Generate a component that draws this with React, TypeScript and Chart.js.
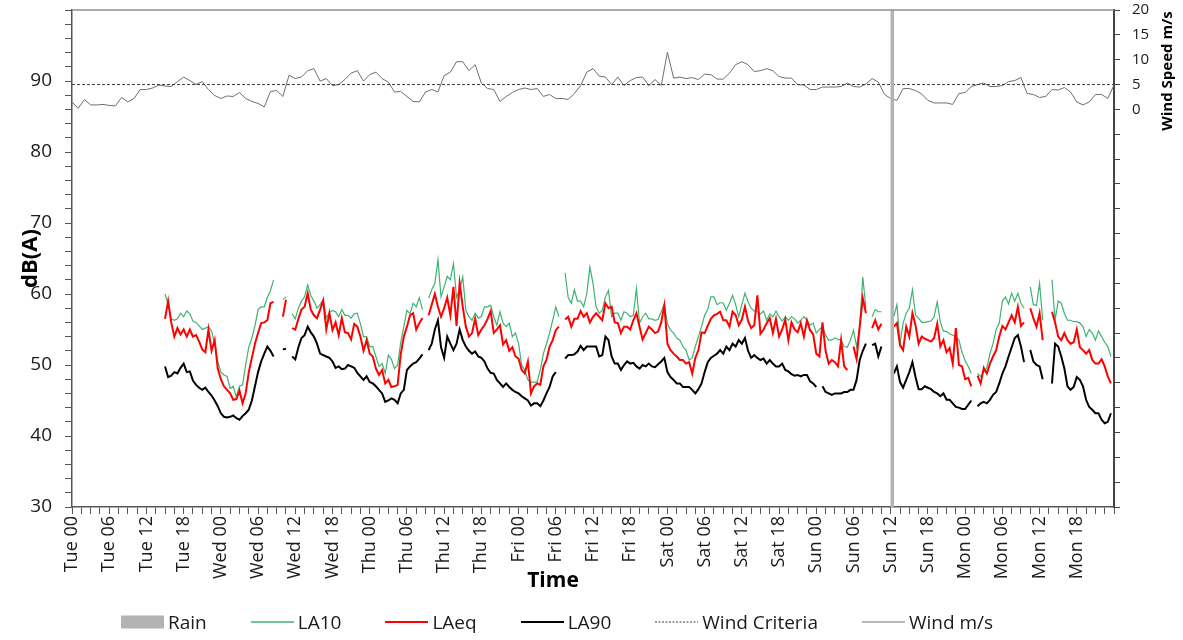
import React, { useEffect, useRef } from 'react';
import { Chart, registerables } from 'chart.js';

Chart.register(...registerables);

const FONT = '"Open Sans", "Noto Sans", sans-serif';

// Time axis: hours from Tuesday 00:00, one week long
const dayNames = ['Tue', 'Wed', 'Thu', 'Fri', 'Sat', 'Sun', 'Mon'];
const axisEndHour = 168;
const labelEveryHours = 6;
const minorTickHours = 1.5;

// Noise levels, dB(A), half-hourly from Tue 15:00 (null = no valid sample)
const noiseStartHour = 15;
const noiseStepHours = 0.5;

const la10 = [
  60.0, 58.5, 56.5, 56.3, 56.5, 57.3, 56.8, 57.6, 57.2, 56.2,
  56.0, 55.5, 55.0, 55.2, 55.4, 54.8, 53.0, 50.5, 49.0, 48.6,
  48.4, 46.7, 47.0, 45.5, 47.0, 47.2, 50.0, 52.5, 53.8, 55.5,
  57.8, 58.2, 58.2, 59.5, 60.5, 62.0, null, null, 59.2, 59.6,
  null, 57.2, 56.5, 58.0, 59.0, 59.6, 61.3, 59.8, 59.0, 58.0,
  58.5, 59.2, 56.6, 57.4, 57.7, 57.5, 56.8, 57.8, 57.0, 57.0,
  56.6, 57.2, 57.3, 55.8, 54.0, 54.0, 52.6, 52.6, 51.2, 49.8,
  50.2, 48.8, 51.4, 50.8, 49.5, 50.0, 53.2, 55.4, 57.7, 57.2,
  58.7, 58.2, 59.5, 57.8, null, 59.4, 60.6, 61.5, 64.8, 59.6,
  61.0, 62.5, 62.0, 64.3, 59.5, 60.6, 62.4, 57.7, 56.8, 56.3,
  57.3, 56.6, 56.8, 58.2, 58.2, 58.4, 56.8, 55.6, 57.5, 55.9,
  55.4, 55.9, 54.0, 54.5, 53.0, 50.0, 49.3, 47.9, 47.6, 47.6,
  47.6, 49.3, 51.6, 53.0, 54.5, 56.3, 58.2, 56.8, null, 63.0,
  59.5, 58.7, 60.6, 59.0, 59.0, 58.2, 60.1, 63.8, 61.5, 58.2,
  57.3, 57.7, 59.6, 60.5, 56.8, 57.3, 57.3, 56.3, 57.5, 57.3,
  56.8, 57.0, 60.8, 55.9, 56.8, 57.3, 56.5, 56.5, 56.3, 56.4,
  57.5, 58.6, 55.8, 54.9, 54.5, 53.8, 53.5, 52.6, 52.1, 50.7,
  51.0, 52.6, 54.0, 55.4, 57.0, 57.8, 59.6, 59.6, 58.5, 58.8,
  58.7, 57.7, 58.7, 59.8, 58.5, 56.8, 58.5, 60.1, 58.9, 58.0,
  57.6, 57.5, 57.2, 57.6, 56.3, 57.2, 56.8, 57.6, 56.8, 56.2,
  56.8, 56.3, 56.8, 56.5, 55.9, 56.3, 56.8, 56.3, 55.6, 55.9,
  54.5, 55.0, 55.4, 54.2, 53.5, 53.5, 53.8, 53.6, 53.5, 52.6,
  52.5, 53.5, 54.9, 52.6, 55.4, 62.4, 58.0, null, 56.8, 57.8,
  57.5, 57.5, null, null, null, 56.8, 58.5, 53.0, 55.9, 57.3,
  58.0, 60.6, 57.0, 56.6, 56.0, 56.0, 56.1, 56.2, 56.8, 58.9,
  56.0, 54.8, 54.7, 54.4, 54.2, 54.0, 53.5, 51.8, 50.6, 49.8,
  48.8, null, 48.8, 48.4, 49.0, 49.6, 51.6, 53.0, 55.0, 55.9,
  59.0, 59.6, 58.6, 60.1, 59.0, 60.1, 58.7, 58.0, null, 61.0,
  58.5, 58.4, 61.5, 56.3, null, null, 62.0, 56.3, 59.0, 58.7,
  57.3, 56.3, 56.3, 56.1, 56.1, 55.9, 55.4, 54.0, 55.0, 54.5,
  53.5, 54.8, 54.0, 53.2, 52.6, 51.2,
];

const laeq = [
  56.5, 59.0, 56.0, 54.0, 55.2, 54.3, 55.0, 54.0, 55.0, 54.0,
  54.2, 53.3, 52.2, 51.8, 55.0, 52.0, 53.5, 49.5, 48.0, 47.0,
  46.5, 46.0, 45.1, 45.2, 46.4, 44.6, 46.0, 49.0, 51.0, 53.0,
  54.5, 55.9, 56.0, 56.3, 58.7, 58.9, null, null, 56.8, 59.2,
  null, 55.2, 55.0, 56.5, 57.8, 58.2, 60.1, 57.8, 57.0, 56.6,
  57.8, 59.1, 55.0, 57.3, 54.9, 56.0, 54.2, 56.6, 54.6, 54.5,
  53.6, 55.8, 55.4, 54.0, 52.0, 53.5, 51.6, 51.2, 49.5, 48.6,
  49.3, 47.4, 47.9, 46.9, 47.0, 47.2, 51.5, 54.0, 55.4, 57.0,
  57.3, 55.0, 55.9, 56.6, null, 57.0, 58.5, 60.0, 58.2, 56.8,
  58.0, 59.5, 57.0, 61.0, 55.5, 61.5, 58.2, 55.4, 54.0, 54.5,
  56.5, 54.2, 55.0, 55.6, 56.5, 57.6, 54.5, 55.0, 55.6, 52.9,
  53.5, 52.0, 52.5, 51.2, 50.9, 49.3, 48.8, 50.5, 46.0, 47.0,
  47.4, 47.2, 49.8, 50.7, 52.6, 53.5, 54.9, 55.4, null, 56.4,
  56.8, 55.4, 56.5, 56.5, 57.6, 56.8, 57.3, 56.0, 56.8, 57.3,
  56.8, 56.3, 58.7, 58.0, 58.2, 56.0, 55.9, 54.5, 55.4, 55.4,
  55.0, 56.3, 57.3, 55.4, 53.6, 54.5, 55.4, 55.0, 54.5, 54.7,
  56.0, 58.4, 53.0, 52.1, 51.6, 51.2, 50.7, 50.7, 50.2, 50.4,
  48.8, 51.0, 52.1, 54.6, 54.5, 55.5, 56.5, 57.0, 57.2, 57.5,
  56.3, 56.3, 55.4, 57.5, 57.0, 55.6, 56.4, 58.2, 56.2, 55.2,
  55.6, 59.8, 54.4, 55.0, 55.9, 56.6, 54.5, 56.5, 54.0, 55.0,
  56.4, 53.5, 56.0, 55.0, 54.6, 55.9, 54.0, 56.3, 54.9, 54.3,
  51.6, 51.2, 56.0, 52.0, 50.2, 50.7, 50.4, 49.8, 53.5, 49.8,
  49.3, null, 52.6, 50.8, 55.4, 59.4, 57.3, null, 55.2, 56.3,
  55.0, 55.8, null, null, null, 55.4, 55.9, 52.8, 52.1, 55.4,
  54.0, 57.3, 55.6, 53.0, 54.0, 53.7, 53.5, 53.3, 53.8, 55.8,
  52.6, 53.5, 51.8, 52.4, 50.2, 55.2, 50.0, 49.8, 48.0, 48.2,
  47.0, null, 48.5, 47.4, 49.6, 48.8, 50.2, 51.2, 52.1, 54.0,
  55.5, 55.0, 56.0, 57.0, 56.0, 58.2, 55.5, 56.0, null, 58.0,
  56.6, 55.4, 57.3, 53.5, null, null, 57.5, 56.0, 54.0, 53.5,
  54.5, 53.5, 53.0, 53.2, 55.0, 52.5, 52.1, 51.6, 52.1, 50.7,
  50.2, 50.2, 50.8, 49.8, 48.4, 47.4,
];

const la90 = [
  49.8, 48.3, 48.5, 49.0, 48.8, 49.6, 50.2, 49.0, 49.1, 47.8,
  47.2, 46.8, 46.5, 46.8, 46.2, 45.7, 45.0, 44.2, 43.2, 42.7,
  42.6, 42.7, 42.9, 42.5, 42.3, 42.8, 43.2, 43.7, 45.0, 47.0,
  49.0, 50.5, 51.6, 52.6, 52.0, 51.2, null, null, 52.2, 52.3,
  null, 51.2, 50.8, 52.5, 53.8, 54.2, 55.4, 54.6, 54.0, 53.0,
  51.6, 51.4, 51.2, 51.0, 50.5, 49.6, 49.8, 49.4, 49.5, 50.0,
  49.8, 49.6, 48.9, 48.4, 47.9, 48.4, 47.6, 47.4, 47.0, 46.5,
  46.0, 44.8, 45.0, 45.3, 45.1, 44.6, 46.0, 46.5, 49.3, 49.8,
  50.2, 50.4, 50.9, 51.5, null, 52.1, 53.0, 55.0, 56.3, 52.5,
  51.0, 54.0, 53.0, 52.1, 53.0, 55.0, 53.5, 52.6, 52.0, 51.6,
  51.9, 51.2, 51.0, 50.5, 49.5, 48.9, 48.8, 47.9, 47.4, 46.9,
  47.4, 46.9, 46.5, 46.2, 46.0, 45.6, 45.3, 45.0, 44.3, 44.6,
  44.6, 44.2, 45.0, 46.0, 46.9, 48.4, 49.0, null, null, 50.9,
  51.4, 51.4, 51.5, 51.9, 52.7, 52.1, 52.6, 52.6, 52.6, 52.6,
  51.2, 51.4, 54.0, 53.5, 51.2, 50.2, 50.2, 49.3, 50.0, 50.5,
  50.2, 50.3, 49.8, 49.5, 50.0, 49.8, 50.2, 49.8, 49.7, 50.1,
  50.5, 51.0, 49.0, 48.3, 47.9, 47.4, 47.4, 46.9, 46.9, 46.9,
  46.5, 46.0, 46.6, 47.4, 49.0, 50.4, 51.0, 51.3, 51.6, 52.1,
  51.6, 52.6, 52.1, 53.0, 52.6, 53.5, 53.0, 53.8, 52.0, 51.0,
  51.4, 51.0, 50.7, 50.9, 50.2, 50.7, 50.2, 49.8, 49.8, 50.2,
  49.3, 49.1, 48.7, 48.5, 48.6, 48.4, 48.6, 48.6, 47.7, 47.4,
  46.9, null, 47.0, 46.2, 46.0, 45.8, 46.0, 46.0, 46.0, 46.2,
  46.2, 46.5, 46.5, 47.9, 50.7, 52.0, 53.0, null, 52.8, 53.0,
  51.2, 52.6, null, null, null, 48.8, 49.8, 47.6, 46.8, 47.9,
  49.0, 50.4, 48.3, 46.6, 46.6, 47.0, 46.8, 46.6, 46.2, 46.0,
  45.6, 46.0, 45.1, 45.1, 44.6, 44.1, 44.0, 43.8, 43.8, 44.4,
  45.0, null, 44.2, 44.6, 44.8, 44.6, 45.1, 45.8, 46.2, 47.4,
  48.8, 49.8, 51.2, 52.5, 53.8, 54.2, 52.6, 50.4, null, 52.1,
  50.5, 50.0, 49.8, 48.0, null, null, 47.4, 53.0, 52.6, 51.2,
  49.5, 47.0, 46.5, 46.9, 48.3, 47.9, 47.0, 45.1, 44.1, 43.7,
  43.2, 43.2, 42.3, 41.8, 42.0, 43.2,
];

// Wind speed, m/s, hourly from Tue 00:00
const windSpeed = [
  1.5, 0.2, 2.0, 0.9, 0.9, 1.0, 0.8, 0.7, 2.4, 1.5,
  2.2, 4.0, 4.0, 4.3, 4.9, 4.7, 4.6, 5.6, 6.5, 5.8,
  5.0, 5.6, 4.0, 2.8, 2.2, 2.7, 2.6, 3.4, 2.2, 1.6,
  1.2, 0.5, 3.6, 3.8, 2.6, 6.9, 6.2, 6.5, 7.8, 8.2,
  5.7, 6.2, 4.8, 5.0, 6.0, 7.3, 7.8, 5.7, 7.0, 7.5,
  6.2, 5.5, 3.5, 3.6, 2.6, 1.6, 1.5, 3.5, 4.0, 3.5,
  6.8, 7.5, 9.6, 9.6, 7.8, 9.0, 5.3, 4.2, 4.0, 1.6,
  2.6, 3.4, 4.0, 4.3, 4.0, 4.2, 2.6, 3.0, 2.2, 2.2,
  2.0, 3.2, 4.8, 7.5, 8.2, 6.7, 6.5, 5.0, 6.5, 4.8,
  5.8, 6.4, 6.5, 4.8, 6.0, 4.8, 11.5, 6.3, 6.5, 6.2,
  6.4, 6.0, 7.1, 7.0, 6.1, 6.1, 7.3, 9.0, 9.6, 9.0,
  7.6, 7.8, 8.2, 7.8, 6.6, 6.3, 6.3, 5.0, 4.9, 4.0,
  4.0, 4.5, 4.5, 4.5, 4.6, 5.3, 4.6, 4.5, 5.1, 6.2,
  5.5, 3.0, 2.2, 1.8, 4.2, 4.2, 3.8, 3.1, 1.8, 1.3,
  1.3, 1.3, 1.0, 3.2, 3.4, 4.6, 5.0, 5.3, 4.6, 4.6,
  4.8, 5.6, 5.8, 6.4, 3.2, 3.0, 2.4, 2.6, 4.0, 3.9,
  4.4, 3.5, 1.5, 0.9, 1.5, 3.0, 3.0, 2.2, 4.9,
];
const windCriteria = 5;

// Rain events, hours from Tue 00:00
const rainHours = [132.25];

const COLORS = {
  rain: '#b3b3b3',
  la10: '#3cb371',
  laeq: '#ff0000',
  la90: '#000000',
  criteria: '#3a3a3a',
  wind: '#6e6e6e',
};

const legendEntries = [
  { label: 'Rain', kind: 'box', color: COLORS.rain, width: 0, dash: '' },
  { label: 'LA10', kind: 'line', color: COLORS.la10, width: 1.5, dash: '' },
  { label: 'LAeq', kind: 'line', color: COLORS.laeq, width: 2, dash: '' },
  { label: 'LA90', kind: 'line', color: COLORS.la90, width: 2, dash: '' },
  { label: 'Wind Criteria', kind: 'line', color: COLORS.criteria, width: 1, dash: '2 1.5' },
  { label: 'Wind m/s', kind: 'line', color: COLORS.wind, width: 1, dash: '' },
];

const noisePoints = (vals: (number | null)[]) =>
  vals.map((v, i) => ({ x: noiseStartHour + i * noiseStepHours, y: v }));

const hourLabel = (h: number) => {
  const day = dayNames[Math.floor(h / 24)];
  const hh = String(h % 24).padStart(2, '0');
  return `${day} ${hh}`;
};

// keep the plot frame fixed: no extra room for half tick labels at the ends
const noEndPadding = (s: any) => {
  s.paddingTop = 0;
  s.paddingBottom = 0;
};

const titlesPlugin = {
  id: 'frameAndTitles',
  afterDraw(chart: any) {
    const { ctx, chartArea: a } = chart;
    ctx.save();
    // top frame edge
    ctx.strokeStyle = '#8f8f8f';
    ctx.lineWidth = 1.5;
    ctx.beginPath();
    ctx.moveTo(a.left, a.top);
    ctx.lineTo(a.right, a.top);
    ctx.stroke();

    ctx.fillStyle = '#000';
    ctx.textAlign = 'center';
    ctx.textBaseline = 'middle';

    ctx.font = `bold 21px ${FONT}`;
    ctx.fillText('Time', a.left + 481, a.bottom + 74);

    ctx.save();
    ctx.translate(31, (a.top + a.bottom) / 2);
    ctx.rotate(-Math.PI / 2);
    ctx.font = `bold 22px ${FONT}`;
    ctx.fillText('dB(A)', 0, 0);
    ctx.restore();

    ctx.save();
    ctx.translate(a.right + 54, a.top + 61);
    ctx.rotate(-Math.PI / 2);
    ctx.font = `bold 15px ${FONT}`;
    ctx.fillText('Wind Speed m/s', 0, 0);
    ctx.restore();

    ctx.restore();
  },
};

export default function App() {
  const canvasRef = useRef<HTMLCanvasElement | null>(null);

  useEffect(() => {
    if (!canvasRef.current) return;
    const rainData: any[] = [];
    rainHours.forEach((h) => {
      rainData.push({ x: h, y: 30 }, { x: h, y: 100 }, { x: h, y: null });
    });

    const chart = new Chart(canvasRef.current, {
      type: 'line',
      data: {
        datasets: [
          {
            label: 'Rain',
            data: rainData,
            yAxisID: 'y',
            borderColor: COLORS.rain,
            borderWidth: 3.5,
            pointRadius: 0,
            spanGaps: false,
          },
          {
            label: 'LA90',
            data: noisePoints(la90),
            yAxisID: 'y',
            borderColor: COLORS.la90,
            borderWidth: 2,
            pointRadius: 0,
            spanGaps: false,
          },
          {
            label: 'LAeq',
            data: noisePoints(laeq),
            yAxisID: 'y',
            borderColor: COLORS.laeq,
            borderWidth: 2,
            pointRadius: 0,
            spanGaps: false,
          },
          {
            label: 'LA10',
            data: noisePoints(la10),
            yAxisID: 'y',
            borderColor: COLORS.la10,
            borderWidth: 1.2,
            pointRadius: 0,
            spanGaps: false,
          },
          {
            label: 'Wind Criteria',
            data: [
              { x: 0, y: windCriteria },
              { x: axisEndHour, y: windCriteria },
            ],
            yAxisID: 'y2',
            borderColor: COLORS.criteria,
            borderWidth: 1,
            borderDash: [3, 2],
            pointRadius: 0,
          },
          {
            label: 'Wind m/s',
            data: windSpeed.map((v, i) => ({ x: i, y: v })),
            yAxisID: 'y2',
            borderColor: COLORS.wind,
            borderWidth: 1,
            pointRadius: 0,
          },
        ],
      },
      options: {
        animation: false,
        responsive: true,
        maintainAspectRatio: false,
        layout: { padding: { top: 10, left: 0, right: 0, bottom: 0 }, autoPadding: false },
        plugins: {
          legend: { display: false },
          tooltip: { enabled: false },
        },
        elements: { line: { tension: 0 } },
        scales: {
          x: {
            type: 'linear',
            min: 0,
            max: axisEndHour,
            offset: false,
            grid: {
              drawOnChartArea: false,
              drawTicks: true,
              tickLength: 7,
              tickColor: '#555',
              tickWidth: 1,
            },
            border: { color: '#555', width: 1.5 },
            ticks: {
              stepSize: minorTickHours,
              autoSkip: false,
              minRotation: 90,
              maxRotation: 90,
              padding: 2,
              color: '#1a1a1a',
              font: { family: FONT, size: 18 },
              callback: (v: any) =>
                v % labelEveryHours === 0 && v < axisEndHour ? hourLabel(v) : '',
            },
            afterFit: (s: any) => {
              s.height = 133;
            },
          },
          y: {
            type: 'linear',
            position: 'left',
            min: 30,
            max: 100,
            grid: { drawOnChartArea: false, tickLength: 7, tickColor: '#555', tickWidth: 1 },
            border: { color: '#555', width: 1.5 },
            ticks: {
              stepSize: 2,
              autoSkip: false,
              padding: 13,
              color: '#1a1a1a',
              font: { family: FONT, size: 19 },
              callback: (v: any) => (v % 10 === 0 && v < 100 ? String(v) : ''),
            },
            afterFit: (s: any) => {
              s.width = 72;
              noEndPadding(s);
            },
          },
          y2: {
            type: 'linear',
            position: 'right',
            min: -80,
            max: 20,
            grid: { drawOnChartArea: false, tickLength: 6, tickColor: '#444', tickWidth: 1 },
            border: { color: '#444', width: 2 },
            ticks: {
              stepSize: 5,
              autoSkip: false,
              padding: 12,
              color: '#1a1a1a',
              font: { family: FONT, size: 15 },
              callback: (v: any) => (v >= 0 ? String(v) : ''),
            },
            afterFit: (s: any) => {
              s.width = 69;
              noEndPadding(s);
            },
          },
        },
      },
      plugins: [titlesPlugin],
    });
    return () => chart.destroy();
  }, []);

  return (
    <div style={{ position: 'fixed', left: 0, top: 0, width: 1183, height: 640, background: '#fff' }}>
      <canvas ref={canvasRef} />
      <div
        style={{
          position: 'absolute',
          left: 121,
          top: 611,
          height: 22,
          display: 'flex',
          alignItems: 'center',
          fontFamily: FONT,
          fontSize: 19,
          color: '#1a1a1a',
          whiteSpace: 'nowrap',
        }}
      >
        {legendEntries.map((e) => (
          <div key={e.label} style={{ display: 'flex', alignItems: 'center', marginRight: 44 }}>
            <svg width={43} height={14} style={{ marginRight: 4 }}>
              {e.kind === 'box' ? (
                <rect x={0} y={0.5} width={43} height={13} fill={e.color} />
              ) : (
                <line
                  x1={0}
                  x2={43}
                  y1={7}
                  y2={7}
                  stroke={e.color}
                  strokeWidth={e.width}
                  strokeDasharray={e.dash || undefined}
                />
              )}
            </svg>
            <span style={{ lineHeight: '22px' }}>{e.label}</span>
          </div>
        ))}
      </div>
    </div>
  );
}
